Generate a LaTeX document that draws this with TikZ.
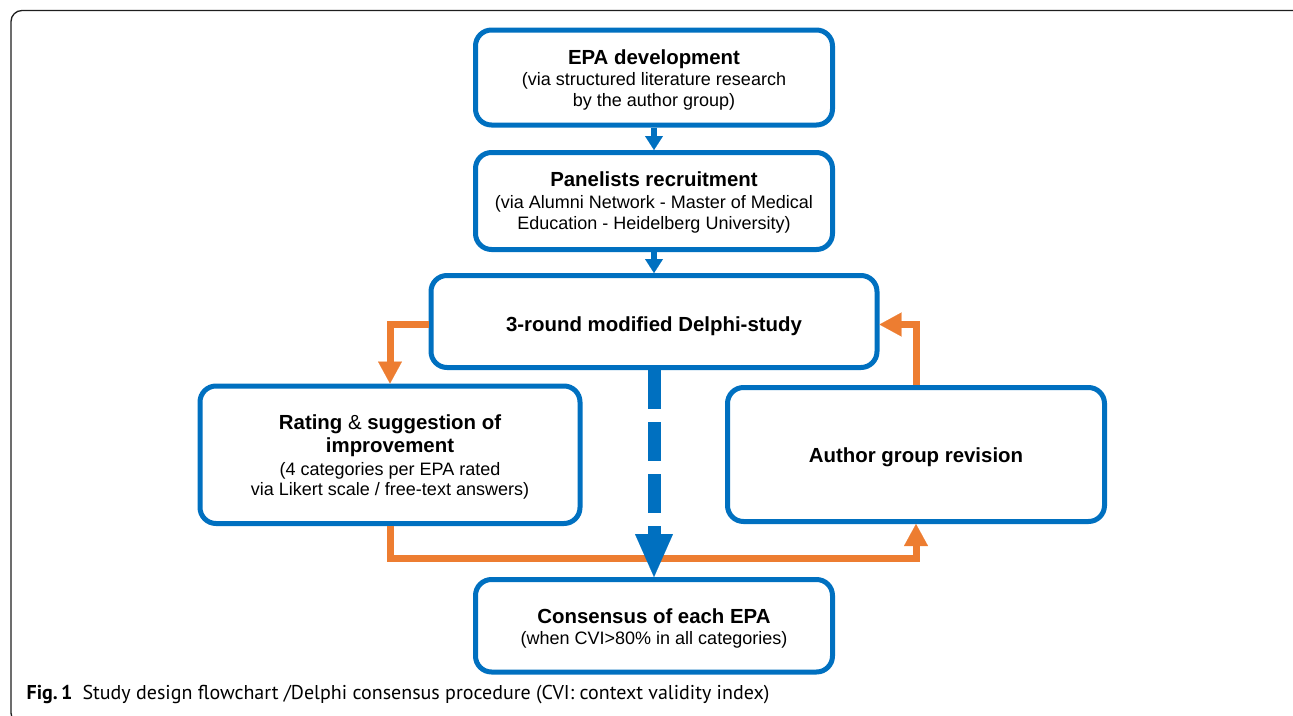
\documentclass[tikz,border=0pt]{standalone}
\usepackage{fontspec}
\setmainfont{Liberation Sans}
\newfontfamily\capfont{PT Sans}
\usetikzlibrary{arrows.meta}
\definecolor{flowblue}{HTML}{0070C0}
\definecolor{floworange}{HTML}{ED7D31}
\definecolor{framegray}{HTML}{1E1E1E}
\begin{document}
\begin{tikzpicture}[x=1pt,y=-1pt,
  stepbox/.style={draw=flowblue, line width=5pt, rounded corners=16pt, fill=white, inner sep=0pt},
  ttl/.style={font=\bfseries\fontsize{20.4}{24}\selectfont, anchor=base, inner sep=0pt},
  sub/.style={font=\fontsize{18}{21}\selectfont, anchor=base, inner sep=0pt},
  barrow/.style={draw=flowblue, line width=6pt, -{Triangle[width=18pt,length=14pt,line width=0.1pt]}, flowblue},
  darrow/.style={draw=flowblue, line width=13pt, dash pattern=on 39pt off 13pt, -{Triangle[width=38pt,length=43pt,line width=0.1pt]}, flowblue},
  oarrow/.style={draw=floworange, line width=7pt, -{Triangle[width=24pt,length=22pt,line width=0.1pt]}, floworange}
]
\useasboundingbox (0,0) rectangle (1293,715);
\clip (0,0) rectangle (1293,715);

% outer figure frame
\draw[framegray, line width=1.3pt, rounded corners=11pt] (11,10.5) rectangle (1304,724);

% process boxes
\node[stepbox, minimum width=357pt, minimum height=95pt] (b1) at (654,77.5) {};
\node[stepbox, minimum width=357pt, minimum height=97pt] (b2) at (654,201) {};
\node[stepbox, minimum width=446pt, minimum height=92pt] (b3) at (654,321.5) {};
\node[stepbox, minimum width=380pt, minimum height=137.5pt] (b4) at (390,454.75) {};
\node[stepbox, minimum width=377pt, minimum height=134pt] (b5) at (916,454.5) {};
\node[stepbox, minimum width=357pt, minimum height=92.5pt] (b6) at (654,625.75) {};

% box texts
\node[ttl] (t1a) at (654,64.3) {EPA development};
\node[sub] (t1b) at (654,85.7) {(via structured literature research};
\node[sub] (t1c) at (654,106.7) {by the author group)};

\node[ttl] (t2a) at (654,186.8) {Panelists recruitment};
\node[sub] (t2b) at (654,208.2) {(via Alumni Network - Master of Medical};
\node[sub] (t2c) at (654,229.2) {Education - Heidelberg University)};

\node[ttl] (t3a) at (654,331.7) {3-round modified Delphi-study};

\node[ttl] (t4a) at (390,429.3) {Rating \textmd{\&} suggestion of};
\node[ttl] (t4b) at (390,452.7) {improvement};
\node[sub] (t4c) at (390,475) {(4 categories per EPA rated};
\node[sub] (t4d) at (390,495) {via Likert scale / free-text answers)};

\node[ttl] (t5a) at (916,462.3) {Author group revision};

\node[ttl] (t6a) at (654,623.3) {Consensus of each EPA};
\node[sub] (t6b) at (654,644.7) {(when CVI>80\% in all categories)};

% feedback loop
\coordinate (loopbottom) at (654,558);
\draw[oarrow] ([yshift=-2.5pt]b3.west) -| (b4.north);
\draw[oarrow] (b4.south) |- (loopbottom) -| (b5.south);
\draw[oarrow] (b5.north) |- ([yshift=-3pt]b3.east);

% main flow
\draw[barrow] (b1.south) -- (b2.north);
\draw[barrow] (b2.south) -- (b3.north);
\draw[darrow] (b3.south) -- (b6.north);

% caption
\node[anchor=base west, inner sep=0pt, font=\capfont\fontsize{20}{23}\selectfont] (cap) at (26.5,699)
  {\textbf{Fig.\,1}\hspace{10pt}Study design flowchart /Delphi consensus procedure (CVI: context validity index)};
\end{tikzpicture}
\end{document}
